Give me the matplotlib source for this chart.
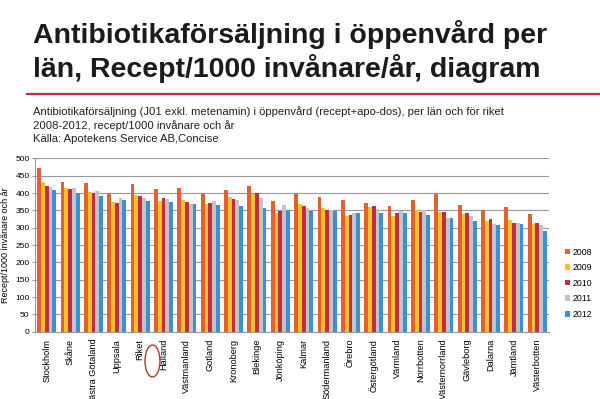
import matplotlib as mpl
import matplotlib.pyplot as plt
import numpy as np
from matplotlib.patches import Ellipse

mpl.rcParams.update({
    "font.family": "Liberation Sans",
    "figure.dpi": 100,
})

lan = ["Stockholm", "Skåne", "Västra Götaland", "Uppsala", "Riket", "Halland",
       "Västmanland", "Gotland", "Kronoberg", "Blekinge", "Jönköping", "Kalmar",
       "Södermanland", "Örebro", "Östergötland", "Värmland", "Norrbotten",
       "Västernorrland", "Gävleborg", "Dalarna", "Jämtland", "Västerbotten"]
years = ["2008", "2009", "2010", "2011", "2012"]

v2008 = [473, 431, 429, 396, 426, 411, 413, 396, 409, 421, 376, 398,
         389, 379, 372, 362, 381, 397, 366, 350, 360, 339]
v2009 = [431, 415, 402, 373, 393, 376, 379, 369, 388, 398, 343, 369,
         357, 334, 359, 335, 350, 346, 339, 318, 323, 310]
v2010 = [420, 411, 399, 372, 392, 386, 373, 370, 383, 401, 349, 362,
         351, 337, 362, 343, 345, 346, 341, 326, 313, 314]
v2011 = [417, 415, 406, 385, 387, 384, 369, 376, 380, 386, 364, 357,
         350, 341, 355, 347, 350, 327, 334, 310, 313, 308]
v2012 = [410, 400, 390, 380, 376, 373, 367, 364, 362, 357, 350, 347,
         347, 342, 341, 341, 337, 329, 320, 309, 310, 290]
series = [v2008, v2009, v2010, v2011, v2012]
colors = ["#E5602E", "#F2C12E", "#C22E3E", "#C4C4C4", "#3E8FD4"]

fig = plt.figure(figsize=(6, 3.99))

fig.text(0.055, 1 - 20 / 399, "Antibiotikaförsäljning i öppenvård per\nlän, Recept/1000 invånare/år, diagram",
         fontsize=20.5, fontweight="bold", color="#1b1b1b", va="top", ha="left",
         linespacing=1.2)
fig.add_artist(plt.Line2D([0.045, 1.0], [1 - 94 / 399] * 2, color="#C4284A", lw=1.6))
fig.text(0.055, 1 - 106 / 399,
         "Antibiotikaförsäljning (J01 exkl. metenamin) i öppenvård (recept+apo-dos), per län och för riket\n"
         "2008-2012, recept/1000 invånare och år\nKälla: Apotekens Service AB,Concise",
         fontsize=8.1, color="#222222", va="top", ha="left", linespacing=1.4)

ax = fig.add_axes([35 / 600, 1 - 331.8 / 399, 514 / 600, 173.5 / 399])
x = np.arange(len(lan))
w = 0.162
for k, (vals, c, yr) in enumerate(zip(series, colors, years)):
    ax.bar(x + (k - 2) * w, vals, width=w, color=c, label=yr, zorder=2)

ax.set_xlim(-0.5, len(lan) - 0.5)
ax.set_ylim(0, 500)
ax.set_yticks(np.arange(0, 501, 50))
ax.yaxis.grid(True, color="#9a9a9a", lw=0.8, zorder=0)
ax.set_axisbelow(True)
for s in ["top", "right"]:
    ax.spines[s].set_visible(False)
ax.spines["left"].set_color("#9a9a9a")
ax.spines["bottom"].set_color("#9a9a9a")
ax.tick_params(axis="y", labelsize=6, length=2, color="#9a9a9a", pad=2)
ax.set_xticks(x)
ax.set_xticklabels(lan, rotation=90, fontsize=6.6, va="top", ha="center")
ax.tick_params(axis="x", length=0, pad=5)
ax.set_ylabel("Recept/1000 invånare och år", fontsize=6.5, labelpad=4)

ax.legend(loc="center left", bbox_to_anchor=(1.015, 0.28), frameon=False,
          fontsize=6.3, handlelength=0.6, handleheight=0.6, handletextpad=0.3,
          labelspacing=0.75)

ax.add_patch(Ellipse((152.5 / 600, 1 - 361 / 399), 15 / 600, 32 / 399,
                     transform=fig.transFigure, fill=False, edgecolor="#B0392E",
                     lw=1.0, clip_on=False))

fig.savefig("out.png", dpi=100)
